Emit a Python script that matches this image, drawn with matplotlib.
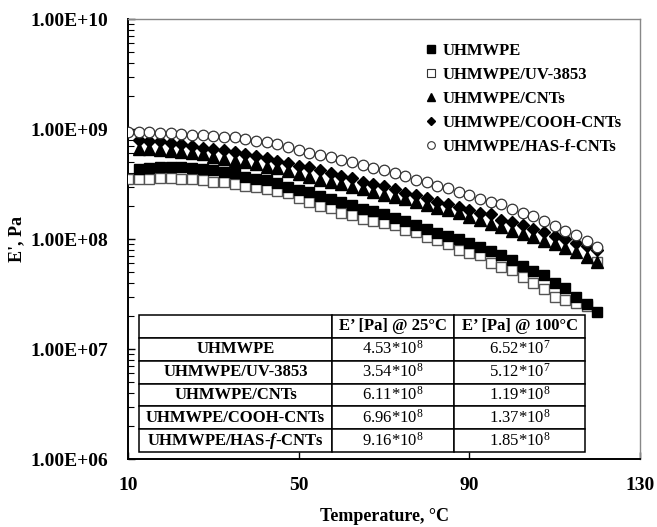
import matplotlib
matplotlib.use("Agg")
import matplotlib.pyplot as plt
from matplotlib.lines import Line2D

plt.rcParams['font.family'] = ['Liberation Serif', 'DejaVu Serif']
plt.rcParams['mathtext.fontset'] = 'custom'
plt.rcParams['mathtext.rm'] = 'Liberation Serif'
plt.rcParams['mathtext.it'] = 'Liberation Serif:italic:bold'
plt.rcParams['mathtext.bf'] = 'Liberation Serif:bold'

# ---------------- data ----------------
temp_all = [10, 12.5, 15, 17.5, 20, 22.5, 25, 27.5, 30, 32.5, 35, 37.5, 40, 42.5, 45,
            47.5, 50, 52.5, 55, 57.5, 60, 62.5, 65, 67.5, 70, 72.5, 75, 77.5, 80, 82.5,
            85, 87.5, 90, 92.5, 95, 97.5, 100, 102.5, 105, 107.5, 110, 112.5, 115, 117.5, 120]
temp_from125 = temp_all[1:]

uhmwpe = [4.30e8, 4.45e8, 4.49e8, 4.49e8, 4.49e8, 4.42e8, 4.36e8, 4.24e8, 4.06e8, 3.96e8,
          3.69e8, 3.53e8, 3.44e8, 3.21e8, 2.99e8, 2.79e8, 2.69e8, 2.46e8, 2.30e8, 2.19e8,
          2.04e8, 1.86e8, 1.79e8, 1.69e8, 1.55e8, 1.45e8, 1.34e8, 1.24e8, 1.14e8, 1.06e8,
          9.94e7, 9.14e7, 8.51e7, 7.73e7, 7.11e7, 6.44e7, 5.69e7, 5.15e7, 4.68e7, 4.01e7,
          3.59e7, 2.99e7, 2.56e7, 2.18e7]

uv3853 = [3.49e8, 3.49e8, 3.53e8, 3.56e8, 3.59e8, 3.53e8, 3.49e8, 3.44e8, 3.30e8, 3.30e8,
          3.16e8, 3.03e8, 2.95e8, 2.87e8, 2.71e8, 2.64e8, 2.36e8, 2.18e8, 2.00e8, 1.91e8,
          1.71e8, 1.65e8, 1.53e8, 1.47e8, 1.39e8, 1.33e8, 1.21e8, 1.16e8, 1.05e8, 9.79e7,
          9.01e7, 7.94e7, 7.51e7, 7.11e7, 6.09e7, 5.60e7, 5.22e7, 4.54e7, 3.96e7, 3.53e7,
          2.99e7, 2.79e7, 2.60e7, 2.46e7, 6.22e7]

cnts = [6.54e8, 6.54e8, 6.44e8, 6.31e8, 6.18e8, 6.09e8, 5.89e8, 5.57e8, 5.34e8, 5.17e8,
        4.98e8, 4.78e8, 4.53e8, 4.38e8, 4.15e8, 3.90e8, 3.64e8, 3.44e8, 3.28e8, 3.16e8,
        2.98e8, 2.85e8, 2.68e8, 2.49e8, 2.39e8, 2.31e8, 2.17e8, 2.04e8, 1.91e8, 1.82e8,
        1.71e8, 1.60e8, 1.48e8, 1.38e8, 1.28e8, 1.19e8, 1.10e8, 1.04e8, 9.69e7, 9.01e7,
        8.37e7, 7.54e7, 6.90e7, 6.22e7]

cooh_cnts = [7.94e8, 7.84e8, 7.70e8, 7.49e8, 7.23e8, 6.96e8, 6.75e8, 6.61e8, 6.43e8, 6.24e8,
             5.95e8, 5.73e8, 5.45e8, 5.15e8, 4.86e8, 4.61e8, 4.47e8, 4.22e8, 3.98e8, 3.74e8,
             3.59e8, 3.33e8, 3.16e8, 3.01e8, 2.82e8, 2.63e8, 2.49e8, 2.35e8, 2.19e8, 2.08e8,
             1.97e8, 1.82e8, 1.74e8, 1.69e8, 1.49e8, 1.44e8, 1.33e8, 1.23e8, 1.15e8, 1.06e8,
             9.94e7, 9.29e7, 8.55e7, 7.94e7]

has_cnts = [9.33e8, 9.45e8, 9.33e8, 9.26e8, 9.14e8, 9.01e8, 8.88e8, 8.77e8, 8.64e8, 8.51e8,
            8.40e8, 8.11e8, 7.81e8, 7.54e8, 7.34e8, 6.93e8, 6.44e8, 6.11e8, 5.86e8, 5.62e8,
            5.28e8, 4.98e8, 4.71e8, 4.44e8, 4.20e8, 3.98e8, 3.72e8, 3.45e8, 3.30e8, 3.06e8,
            2.88e8, 2.68e8, 2.51e8, 2.33e8, 2.19e8, 2.06e8, 1.89e8, 1.74e8, 1.62e8, 1.45e8,
            1.30e8, 1.18e8, 1.08e8, 9.69e7, 8.46e7]

series_names = ["UHMWPE", "UHMWPE/UV-3853", "UHMWPE/CNTs", "UHMWPE/COOH-CNTs", "UHMWPE/HAS-f-CNTs"]

table_header = ["", "E\u2019 [Pa] @ 25\u00b0C", "E\u2019 [Pa] @ 100\u00b0C"]
table_rows = ["UHMWPE", "UHMWPE/UV-3853", "UHMWPE/CNTs", "UHMWPE/COOH-CNTs",
              "UHMWPE/HAS-$\\mathit{f}$-CNTs"]
e25_mant = ["4.53", "3.54", "6.11", "6.96", "9.16"]
e25_exp = ["8", "8", "8", "8", "8"]
e100_mant = ["6.52", "5.12", "1.19", "1.37", "1.85"]
e100_exp = ["7", "7", "8", "8", "8"]

# ---------------- figure ----------------
fig = plt.figure(figsize=(6.57, 5.27), dpi=100)
ax = fig.add_axes([128/657, 1 - 459/527, 512/657, 440/527])

ax.plot(temp_from125, uhmwpe, ls='none', marker='s', ms=7.4, mfc='black', mec='black', zorder=4)
ax.plot(temp_all, uv3853, ls='none', marker='s', ms=7.2, mfc='white', mec='#555555', mew=1.0, zorder=3)
ax.plot(temp_from125, cnts, ls='none', marker='^', ms=8.3, mfc='black', mec='black', zorder=4)
ax.plot(temp_from125, cooh_cnts, ls='none', marker='D', ms=6.3, mfc='black', mec='black', zorder=3)
ax.plot(temp_all, has_cnts, ls='none', marker='o', ms=7.6, mfc='white', mec='#333333', mew=0.9, zorder=3)

ax.set_yscale('log')
ax.set_xlim(10, 130)
ax.set_ylim(1e6, 1e10)
ax.set_xticks([10, 50, 90, 130])
ax.set_xticklabels(["10", "50", "90", "130"])
ax.set_yticks([1e6, 1e7, 1e8, 1e9, 1e10])
ax.set_yticklabels(["1.00E+06", "1.00E+07", "1.00E+08", "1.00E+09", "1.00E+10"])
ax.yaxis.set_minor_locator(matplotlib.ticker.LogLocator(base=10, subs=[2, 3, 4, 5, 6, 7, 8, 9]))
ax.yaxis.set_minor_formatter(matplotlib.ticker.NullFormatter())

ax.tick_params(axis='x', which='major', direction='in', length=5, width=1, pad=13,
               labelsize=14, top=False)
ax.tick_params(axis='y', which='major', direction='in', length=5, width=1, pad=14,
               labelsize=14, right=False)
ax.tick_params(axis='y', which='minor', direction='in', length=4, width=0.8, right=False)
for lab in ax.get_xticklabels() + ax.get_yticklabels():
    lab.set_fontweight('bold')

for side in ['left', 'bottom']:
    ax.spines[side].set_linewidth(1.4)
    ax.spines[side].set_color('black')
for side in ['top', 'right']:
    ax.spines[side].set_linewidth(1.0)
    ax.spines[side].set_color('#888888')

ax.set_xlabel("Temperature, \u00b0C", fontsize=13, fontweight='bold')
ax.xaxis.set_label_coords(0.5, -0.112)
ax.set_ylabel("E', Pa", fontsize=13, fontweight='bold')
ax.yaxis.set_label_coords(-0.2, 0.5)

# legend
handles = [
    Line2D([], [], ls='none', marker='s', ms=5.5, mfc='black', mec='black'),
    Line2D([], [], ls='none', marker='s', ms=5.5, mfc='white', mec='#333333', mew=0.8),
    Line2D([], [], ls='none', marker='^', ms=6, mfc='black', mec='black'),
    Line2D([], [], ls='none', marker='D', ms=4.5, mfc='black', mec='black'),
    Line2D([], [], ls='none', marker='o', ms=5.5, mfc='white', mec='#333333', mew=0.8),
]
leg = ax.legend(handles, series_names, loc='upper left', bbox_to_anchor=(0.583, 0.945),
                frameon=False, prop={'family': 'Liberation Serif', 'weight': 'bold', 'size': 12},
                handlelength=0.6, handletextpad=0.35, labelspacing=0.48, borderpad=0,
                borderaxespad=0)

# table
cells = [[""] + [table_header[1], table_header[2]]]
for i in range(len(table_rows)):
    cells.append([table_rows[i],
                  e25_mant[i] + "*10$^{\\mathrm{" + e25_exp[i] + "}}$",
                  e100_mant[i] + "*10$^{\\mathrm{" + e100_exp[i] + "}}$"])

left = (139 - 128) / 512
right = (585 - 128) / 512
top = (459 - 315) / 440
bottom = (459 - 452) / 440
tbl = ax.table(cellText=cells, cellLoc='center',
               colWidths=[193/446, 122/446, 131/446],
               bbox=[left, bottom, right - left, top - bottom], zorder=5)
tbl.auto_set_font_size(False)
for (r, c), cell in tbl.get_celld().items():
    cell.set_linewidth(1.1)
    cell.set_edgecolor('black')
    cell.set_facecolor('white')
    txt = cell.get_text()
    txt.set_fontsize(12)
    txt.set_fontfamily('Liberation Serif')
    if c == 0 or r == 0:
        txt.set_fontweight('bold')
    else:
        txt.set_fontweight('normal')

fig.savefig("out.png", dpi=100)
